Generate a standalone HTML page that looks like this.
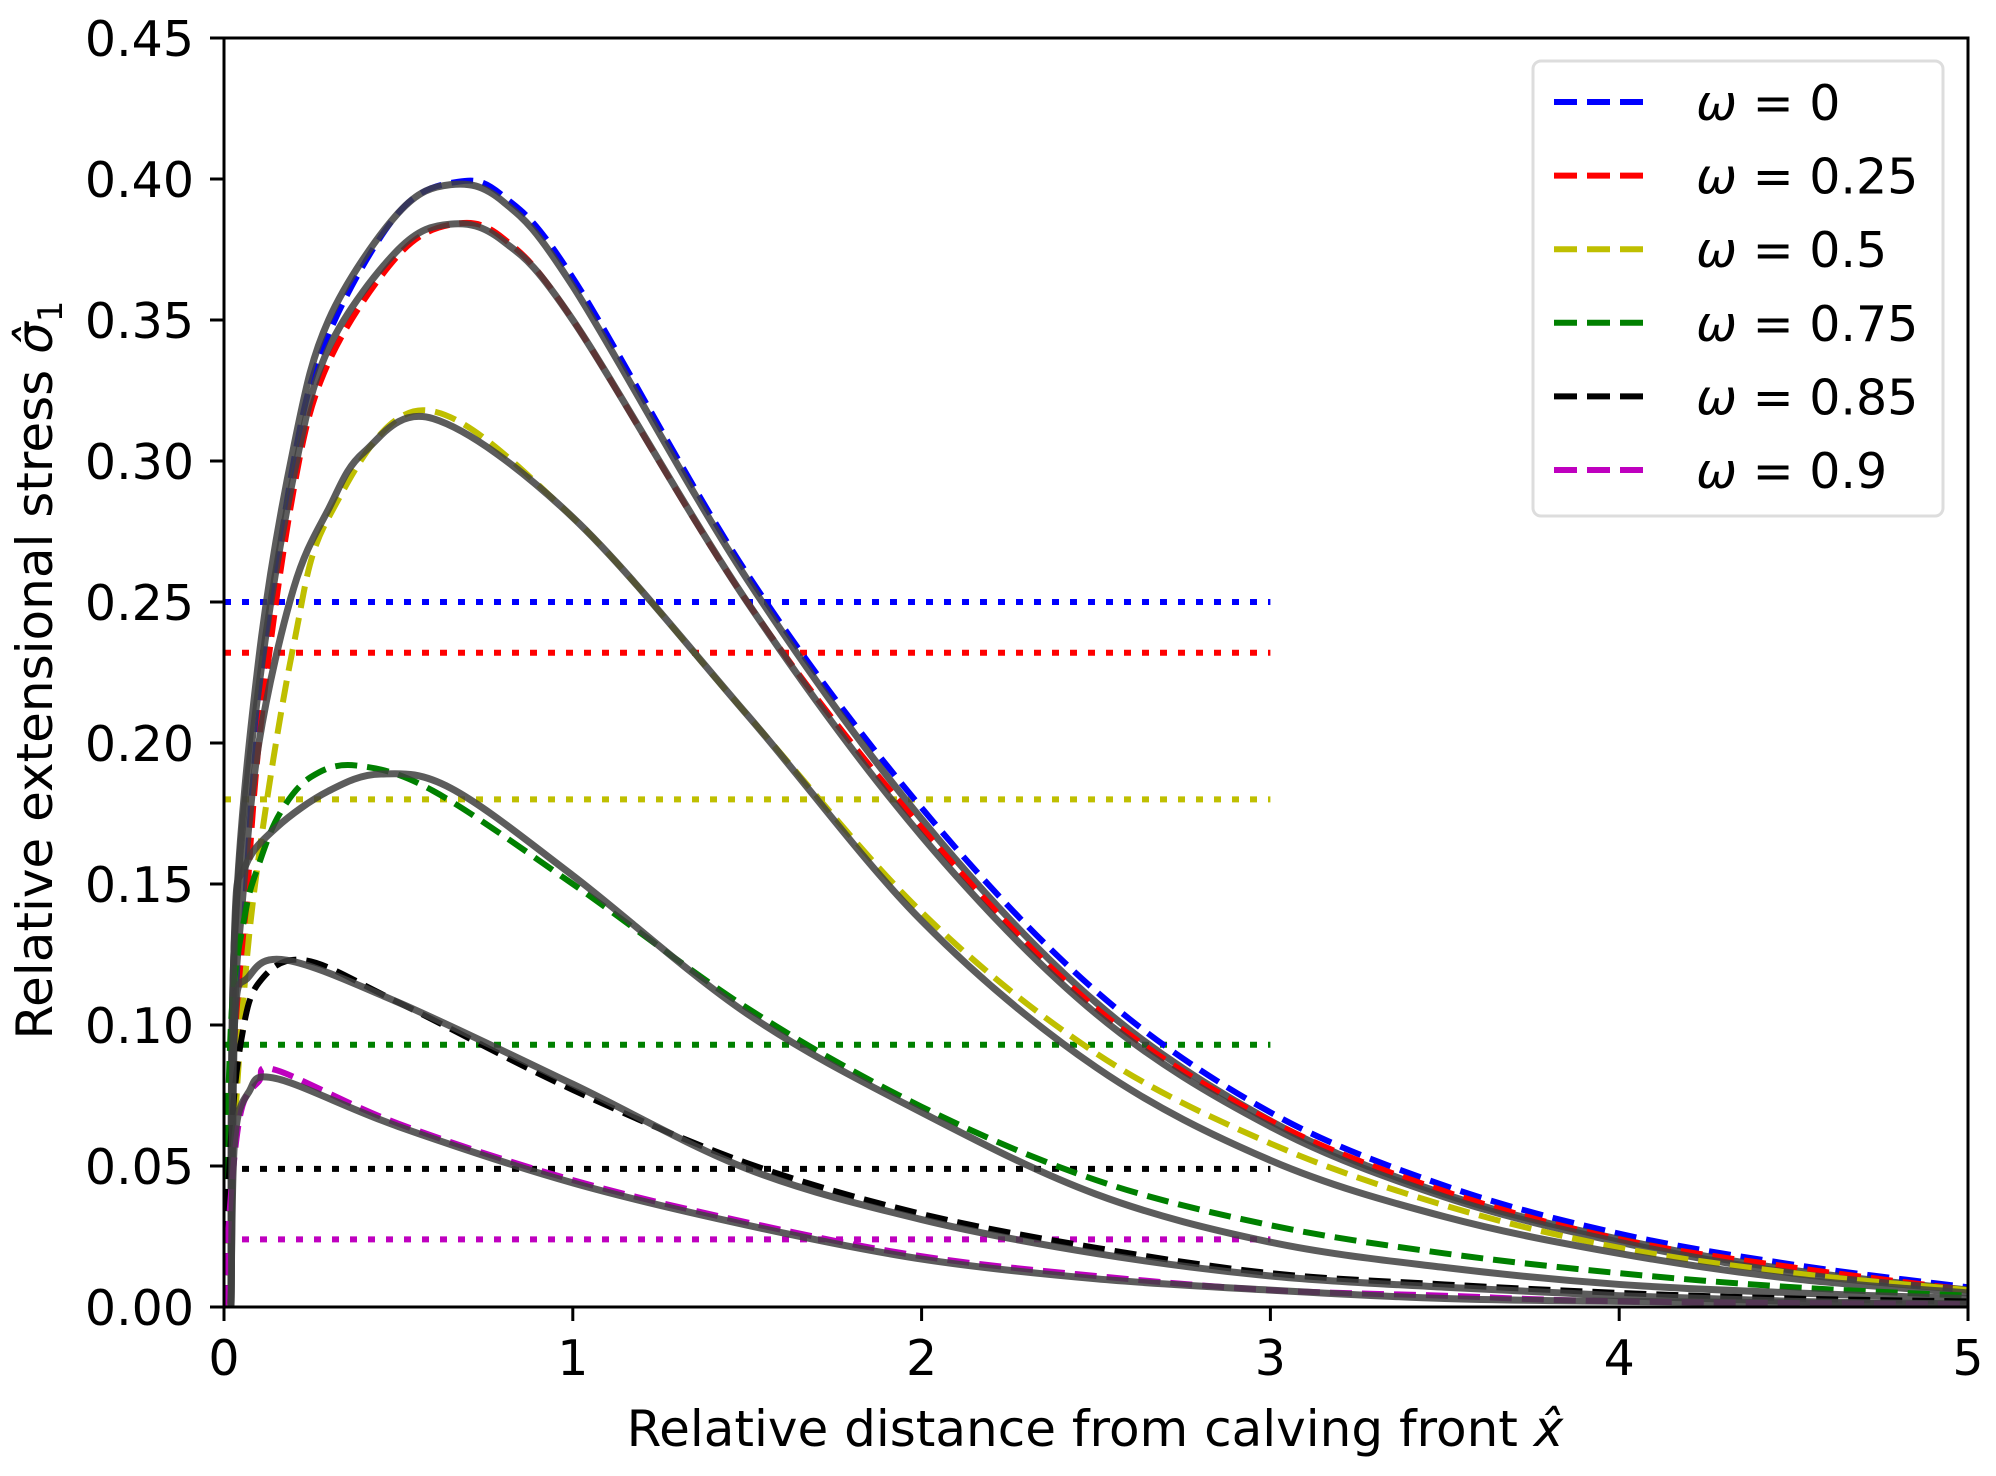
<!DOCTYPE html>
<html><head><meta charset="utf-8"><style>
html,body{margin:0;padding:0;background:#fff}
svg{display:block;font-family:"DejaVu Sans","Liberation Sans",sans-serif}
</style></head><body>
<svg id="chart" width="1996" height="1476" viewBox="0 0 1996 1476" xmlns="http://www.w3.org/2000/svg">
<rect width="1996" height="1476" fill="#fff"/>
<g id="plot"></g>
<rect x="224" y="38" width="1744" height="1269" fill="none" stroke="#000" stroke-width="3"/>
<g id="ticks"></g>
<text x="1095" y="1446" text-anchor="middle" font-size="50">Relative distance from calving front <tspan font-style="italic">x̂</tspan></text>
<text transform="translate(52,670) rotate(-90)" text-anchor="middle" font-size="50">Relative extensional stress <tspan font-style="italic">σ̂</tspan><tspan font-size="34" dy="10">1</tspan></text>
<g id="legend">
<rect x="1533" y="61" width="410" height="455" rx="8" fill="#fff" fill-opacity="0.8" stroke="#ddd" stroke-width="3"/>
</g>
</svg>
<script>
const xTicks=[0,1,2,3,4,5];
const yTicks=[0,0.05,0.10,0.15,0.20,0.25,0.30,0.35,0.40,0.45];
const yTickLabels=["0.00","0.05","0.10","0.15","0.20","0.25","0.30","0.35","0.40","0.45"];
const omegaLabels=["0","0.25","0.5","0.75","0.85","0.9"];
const colors=["#0000ff","#ff0000","#bfbf00","#008000","#000000","#bf00bf"];
const thresholds=[0.25,0.232,0.18,0.093,0.049,0.024];
const thresholdXEnd=3;
const dashX=[[0,0.05,0.1,0.2,0.3,0.5,0.67,0.8,1.0,1.5,2.0,2.5,3.0,3.5,4.0,4.5,5],
[0,0.05,0.1,0.2,0.3,0.5,0.66,0.8,1.0,1.5,2.0,2.5,3.0,3.5,4.0,4.5,5],
[0,0.05,0.1,0.2,0.3,0.57,1.0,1.5,2.0,2.5,3.0,3.5,4.0,4.5,5],
[0,0.02,0.06,0.1,0.16,0.25,0.38,0.6,1.0,1.5,2.0,2.5,3.0,3.5,4.0,4.5,5],
[0,0.02,0.05,0.1,0.23,0.5,1.0,1.5,2.0,2.5,3.0,3.5,4.0,4.5,5],
[0,0.02,0.05,0.1,0.15,0.5,1.0,1.5,2.0,2.5,3.0,3.5,4.0,5]];
const dashY=[[0,0.12,0.21,0.30,0.345,0.388,0.399,0.394,0.365,0.26,0.177,0.112,0.069,0.043,0.026,0.015,0.007],
[0,0.11,0.20,0.29,0.335,0.373,0.384,0.379,0.35,0.25,0.17,0.106,0.066,0.041,0.024,0.014,0.006],
[0,0.10,0.16,0.235,0.28,0.318,0.28,0.21,0.14,0.09,0.058,0.036,0.021,0.012,0.006],
[0,0.10,0.139,0.157,0.175,0.188,0.192,0.183,0.150,0.106,0.071,0.045,0.029,0.019,0.012,0.007,0.004],
[0,0.06,0.095,0.115,0.123,0.108,0.077,0.051,0.033,0.021,0.012,0.008,0.005,0.003,0.002],
[0,0.04,0.07,0.08,0.084,0.065,0.045,0.030,0.018,0.011,0.006,0.004,0.002,0.001]];
const numX=[[0.02,0.03,0.1,0.2,0.3,0.5,0.65,0.8,1.0,1.5,2.0,2.5,3.0,3.5,4.0,4.5,5],
[0.02,0.03,0.1,0.2,0.3,0.5,0.65,0.8,1.0,1.5,2.0,2.5,3.0,3.5,4.0,4.5,5],
[0.02,0.03,0.05,0.1,0.2,0.3,0.4,0.6,1.0,1.5,2.0,2.5,3.0,3.5,4.0,4.5,5],
[0.02,0.03,0.06,0.15,0.3,0.45,0.65,1.0,1.5,2.0,2.5,3.0,3.5,4.0,4.5,5],
[0.02,0.03,0.07,0.18,0.5,1.0,1.5,2.0,2.5,3.0,3.5,4.0,4.5,5],
[0.02,0.03,0.07,0.15,0.5,1.0,1.5,2.0,2.5,3.0,3.5,4.0,5]];
const numY=[[0,0.13,0.23,0.305,0.35,0.388,0.398,0.392,0.362,0.258,0.173,0.108,0.066,0.04,0.024,0.013,0.006],
[0,0.13,0.22,0.295,0.34,0.375,0.384,0.378,0.35,0.25,0.167,0.104,0.064,0.039,0.023,0.012,0.006],
[0,0.1,0.14,0.2,0.255,0.283,0.303,0.315,0.28,0.21,0.137,0.085,0.052,0.032,0.019,0.01,0.005],
[0,0.132,0.156,0.170,0.183,0.189,0.184,0.153,0.104,0.069,0.040,0.023,0.014,0.008,0.005,0.003],
[0,0.100,0.117,0.123,0.108,0.079,0.049,0.031,0.019,0.011,0.007,0.004,0.002,0.001],
[0,0.058,0.076,0.081,0.064,0.044,0.029,0.017,0.010,0.006,0.003,0.002,0.001]];

const L=224,R=1968,T=38,B=1307;
const sx=v=>L+(R-L)*v/5, sy=v=>B-(B-T)*v/0.45;
const NS="http://www.w3.org/2000/svg";
function mk(tag,attrs,parent){const e=document.createElementNS(NS,tag);for(const k in attrs)e.setAttribute(k,attrs[k]);parent.appendChild(e);return e;}
function pathD(xs,ys){
  const p=xs.map((x,i)=>[sx(x),sy(ys[i])]);
  let d="M"+p[0][0]+","+p[0][1];
  for(let i=0;i<p.length-1;i++){
    const p0=p[Math.max(0,i-1)],p1=p[i],p2=p[i+1],p3=p[Math.min(p.length-1,i+2)];
    const c1x=p1[0]+(p2[0]-p0[0])/6,c1y=p1[1]+(p2[1]-p0[1])/6;
    const c2x=p2[0]-(p3[0]-p1[0])/6,c2y=p2[1]-(p3[1]-p1[1])/6;
    d+=` C${c1x},${c1y} ${c2x},${c2y} ${p2[0]},${p2[1]}`;
  }
  return d;
}
const plot=document.getElementById('plot');
const clip=mk('clipPath',{id:'cp'},mk('defs',{},plot));
mk('rect',{x:L,y:T,width:R-L,height:B-T},clip);
const g=mk('g',{'clip-path':'url(#cp)'},plot);
thresholds.forEach((t,i)=>{
  const l=mk('line',{x1:sx(0),x2:sx(thresholdXEnd),y1:sy(t),y2:sy(t),stroke:colors[i],'stroke-width':6,'stroke-dasharray':'7 11'},g);
  
  
});
for(let i=0;i<6;i++){
  const d=mk('path',{d:pathD(dashX[i],dashY[i]),fill:'none',stroke:colors[i],'stroke-width':6,'stroke-dasharray':'22 10'},g);
  
  
  const n=mk('path',{d:pathD(numX[i],numY[i]),fill:'none',stroke:'rgba(64,64,64,0.85)','stroke-width':7},g);
  
  
}
const tk=document.getElementById('ticks');
xTicks.forEach(v=>{
  const l=mk('line',{x1:sx(v),x2:sx(v),y1:B,y2:B+14,stroke:'#000','stroke-width':3},tk);
  
  
  const t=mk('text',{x:sx(v),y:1375,'text-anchor':'middle','font-size':49},tk);
  t.textContent=String(v);
  
  
});
yTicks.forEach((v,i)=>{
  const l=mk('line',{x1:L-14,x2:L,y1:sy(v),y2:sy(v),stroke:'#000','stroke-width':3},tk);
  
  
  const t=mk('text',{x:L-30,y:sy(v)+18,'text-anchor':'end','font-size':49},tk);
  t.textContent=yTickLabels[i];
  
  
});
const lg=document.getElementById('legend');
omegaLabels.forEach((s,i)=>{
  const y=102+73.6*i;
  const l=mk('line',{x1:1554,x2:1645,y1:y,y2:y,stroke:colors[i],'stroke-width':6,'stroke-dasharray':'23 10'},lg);
  
  
  const t=mk('text',{x:1696,y:y+18,'font-size':49},lg);
  t.innerHTML='<tspan font-style="italic">ω</tspan> = '+s;
  
  
});
</script>
</body></html>
